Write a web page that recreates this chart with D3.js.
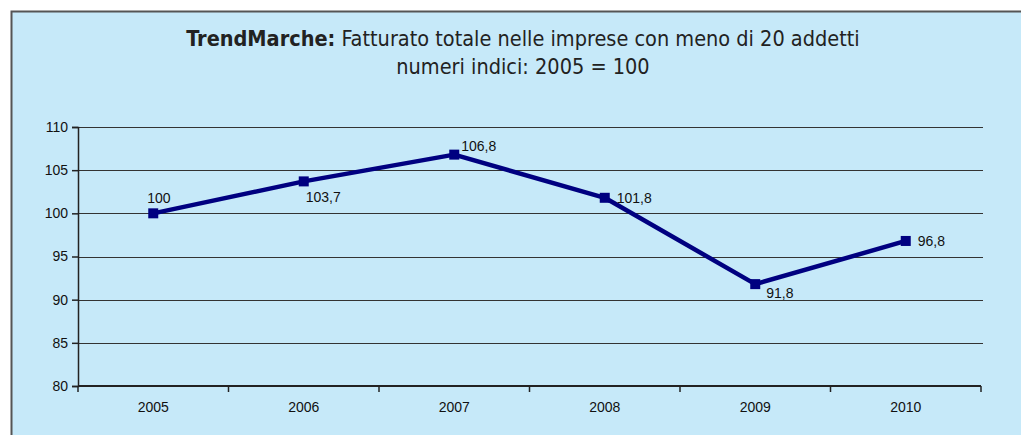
<!DOCTYPE html>
<html>
<head>
<meta charset="utf-8">
<script src="https://cdn.jsdelivr.net/npm/d3@7"></script>
<style>
  html, body { margin: 0; background: #fff; overflow: hidden; }
  svg { display: block; overflow: hidden; }
</style>
</head>
<body>
<div id="chart"></div>
<script>
// data
var years = ["2005", "2006", "2007", "2008", "2009", "2010"];
var values = [100, 103.7, 106.8, 101.8, 91.8, 96.8];
var valueLabels = ["100", "103,7", "106,8", "101,8", "91,8", "96,8"];
var labelPlace = ["above", "below", "upright", "right", "belowright", "right"];
var yTicks = [80, 85, 90, 95, 100, 105, 110];

var W = 1021, H = 435;
var margin = { top: 127, left: 78, right: 40, bottom: 49 };
var width = W - margin.left - margin.right,
  height = H - margin.top - margin.bottom;

var svg = d3.select("#chart").append("svg")
  .attr("width", W).attr("height", H);

// frame (only top and left edges show in the picture)
svg.append("rect").attr("x", 11).attr("y", 12).attr("width", W - 11).attr("height", H - 12)
  .attr("fill", "#c6e9f9");
svg.append("path").attr("d", "M11.5," + H + "V11.5H" + W)
  .attr("fill", "none").attr("stroke", "#555").attr("stroke-width", 2);

// title
var titleFont = "'DejaVu Sans Condensed', 'Liberation Sans Narrow', sans-serif";
var title = svg.append("text")
  .attr("x", 523).attr("y", 46)
  .attr("text-anchor", "middle")
  .style("font-family", titleFont)
  .style("font-size", "21.5px")
  .attr("fill", "#222");
title.append("tspan").attr("font-weight", "bold").text("TrendMarche:");
title.append("tspan").text(" Fatturato totale nelle imprese con meno di 20 addetti");
svg.append("text")
  .attr("x", 523).attr("y", 74)
  .attr("text-anchor", "middle")
  .style("font-family", titleFont)
  .style("font-size", "21.5px")
  .attr("fill", "#222")
  .text("numeri indici: 2005 = 100");

var g = svg.append("g")
  .attr("transform", "translate(" + margin.left + "," + margin.top + ")");

var x = d3.scaleBand().domain(years).range([0, width]);
var y = d3.scaleLinear().domain([80, 110]).range([height, 0]);

var labelFont = "'Liberation Sans', Arial, sans-serif";

// gridlines
g.append("g")
  .selectAll("line")
  .data(yTicks.slice(1))
  .join("line")
  .attr("x1", 0).attr("x2", width + 2)
  .attr("y1", function (d) { return Math.round(y(d)) + 0.5; })
  .attr("y2", function (d) { return Math.round(y(d)) + 0.5; })
  .attr("stroke", "#333").attr("stroke-width", 1);

// y axis
var gY = g.append("g")
  .call(d3.axisLeft(y).tickValues(yTicks).tickSize(6).tickPadding(4));
gY.select(".domain").attr("stroke", "#222").attr("stroke-width", 1.5);
gY.selectAll(".tick line").attr("stroke", "#222").attr("stroke-width", 1.5);
gY.selectAll("text")
  .style("font-family", labelFont)
  .style("font-size", "14px").attr("fill", "#111");

// x axis
var gX = g.append("g").attr("transform", "translate(0," + height + ")")
  .call(d3.axisBottom(x).tickSize(0).tickPadding(16));
gX.select(".domain").remove();
gX.selectAll("text")
  .style("font-family", labelFont)
  .style("font-size", "14px").attr("fill", "#111");
gX.append("line").attr("x1", 0).attr("x2", width)
  .attr("stroke", "#222").attr("stroke-width", 2);
gX.selectAll(".bound")
  .data(years.concat(["end"]))
  .join("line")
  .attr("class", "bound")
  .attr("x1", function (d, i) { return i * x.step(); })
  .attr("x2", function (d, i) { return i * x.step(); })
  .attr("y1", 0).attr("y2", 6)
  .attr("stroke", "#222").attr("stroke-width", 1.5);

// line
var cx = function (d, i) { return x(years[i]) + x.bandwidth() / 2; };
var line = d3.line()
  .x(function (d, i) { return cx(d, i); })
  .y(function (d) { return y(d); });

g.append("path")
  .datum(values)
  .attr("d", line)
  .attr("fill", "none")
  .attr("stroke", "#000080")
  .attr("stroke-width", 4.5)
  .attr("stroke-linejoin", "round");

g.selectAll(".marker")
  .data(values)
  .join("rect")
  .attr("class", "marker")
  .attr("x", function (d, i) { return cx(d, i) - 5; })
  .attr("y", function (d) { return y(d) - 5; })
  .attr("width", 10).attr("height", 10)
  .attr("fill", "#000080");

// value labels
var offsets = {
  above: [-6, -10],
  below: [2, 21],
  upright: [7, -4],
  right: [12, 5],
  belowright: [11, 14]
};
g.selectAll(".vlabel")
  .data(values)
  .join("text")
  .attr("class", "vlabel")
  .attr("x", function (d, i) { return cx(d, i) + offsets[labelPlace[i]][0]; })
  .attr("y", function (d, i) { return y(d) + offsets[labelPlace[i]][1]; })
  .style("font-family", labelFont)
  .style("font-size", "14px")
  .attr("fill", "#111")
  .text(function (d, i) { return valueLabels[i]; });
</script>
</body>
</html>
